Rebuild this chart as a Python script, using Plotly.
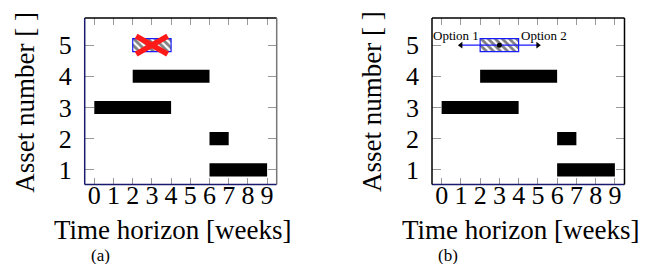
import plotly.graph_objects as go

# ---- data ----
assets = [1, 2, 3, 4]
starts = [6, 6, 0, 2]
ends = [9, 7, 4, 6]
moved_asset = 5
moved_start = 2
moved_end = 4
option_targets = [1, 5]
option_labels = ["Option 1", "Option 2"]
x_ticks = list(range(10))
y_ticks = [1, 2, 3, 4, 5]
x_title = "Time horizon [weeks]"
y_title = "Asset number [ ]"
panel_labels = ["(a)", "(b)"]

W, H = 662, 272
FONT = "Liberation Serif, Times New Roman, serif"
BAR_W = 0.42

fig = go.Figure()

panels = [("x", "y", "xaxis", "yaxis"), ("x2", "y2", "xaxis2", "yaxis2")]

for xr, yr, _, _ in panels:
    fig.add_trace(go.Bar(
        orientation="h", y=assets, base=starts,
        x=[e - s for s, e in zip(starts, ends)],
        width=BAR_W, marker=dict(color="black", line=dict(width=0)),
        xaxis=xr, yaxis=yr, showlegend=False, hoverinfo="skip"))
    fig.add_trace(go.Bar(
        orientation="h", y=[moved_asset], base=[moved_start],
        x=[moved_end - moved_start], width=BAR_W,
        marker=dict(color="white", line=dict(color="#1a1aff", width=1.2),
                    pattern=dict(shape="\\", fgcolor="black", bgcolor="white",
                                 size=5, solidity=0.55)),
        xaxis=xr, yaxis=yr, showlegend=False, hoverinfo="skip"))

# red cross (panel a)
pad_x, pad_y = 0.18, 0.29
for y0, y1 in [(moved_asset + pad_y, moved_asset - pad_y), (moved_asset - pad_y, moved_asset + pad_y)]:
    fig.add_trace(go.Scatter(
        x=[moved_start + pad_x, moved_end - pad_x], y=[y0, y1], mode="lines",
        line=dict(color="#ff1a1a", width=5.5), xaxis="x", yaxis="y",
        showlegend=False, hoverinfo="skip"))

# options arrows (panel b)
center = (moved_start + moved_end) / 2
fig.add_trace(go.Scatter(
    x=[option_targets[0], option_targets[1]], y=[moved_asset, moved_asset],
    mode="lines", line=dict(color="#1a1aff", width=1.2),
    xaxis="x2", yaxis="y2", showlegend=False, hoverinfo="skip"))
fig.add_trace(go.Scatter(
    x=option_targets, y=[moved_asset] * 2, mode="markers",
    marker=dict(symbol=["triangle-left", "triangle-right"], size=6, color="black"),
    xaxis="x2", yaxis="y2", showlegend=False, hoverinfo="skip"))
fig.add_trace(go.Scatter(
    x=[center], y=[moved_asset], mode="markers",
    marker=dict(symbol="circle", size=5, color="black"),
    xaxis="x2", yaxis="y2", showlegend=False, hoverinfo="skip"))

annotations = []
for lbl, tx, dx in zip(option_labels, option_targets, [-0.25, 0.3]):
    annotations.append(dict(x=tx + dx, y=moved_asset + 0.32, xref="x2", yref="y2",
                            text=lbl, showarrow=False,
                            font=dict(family=FONT, size=13, color="black")))

# axes geometry (pixels)
x_doms = [(76.7, 268.7), (424, 616.5)]
y_top, y_bot = 10, 176.5
ydom = [1 - y_bot / H, 1 - y_top / H]
label_lift = 8  # px the x tick labels sit closer to the frame

layout = dict(
    width=W, height=H, margin=dict(l=0, r=0, t=0, b=0),
    paper_bgcolor="white", plot_bgcolor="white", barmode="overlay",
    font=dict(family=FONT, color="black"),
)
for i, (xr, yr, xk, yk) in enumerate(panels):
    x0, x1 = x_doms[i]
    layout[xk] = dict(domain=[x0 / W, x1 / W], range=[-0.5, 9.5], anchor=yr,
                      tickvals=x_ticks, ticks="inside", ticklen=7, tickcolor="#999999",
                      tickwidth=1, mirror="ticks", showline=False, showgrid=False,
                      zeroline=False, showticklabels=False, fixedrange=True)
    # label-only companion axis
    lk = "xaxis%d" % (i + 3)
    layout[lk] = dict(domain=[x0 / W, x1 / W], range=[-0.5, 9.5], overlaying=xr,
                      anchor="free", position=1 - (y_bot - label_lift) / H,
                      tickvals=x_ticks, ticks="", showline=False, showgrid=False,
                      zeroline=False, tickfont=dict(family=FONT, size=26),
                      ticklabelstandoff=0, fixedrange=True)
    layout[yk] = dict(domain=ydom, range=[0.53, 5.87], anchor=xr,
                      tickvals=y_ticks, ticks="inside", ticklen=9, tickcolor="#999999",
                      tickwidth=1, mirror="ticks", showline=False, showgrid=False,
                      zeroline=False, tickfont=dict(family=FONT, size=26),
                      ticklabelstandoff=12, fixedrange=True)
    cx = (x0 + x1) / 2
    annotations.append(dict(x=(cx - 8) / W, y=1 - 222 / H, xref="paper", yref="paper",
                            text=x_title, showarrow=False, xanchor="center", yanchor="middle",
                            height=30, font=dict(family=FONT, size=27)))
    annotations.append(dict(x=(x0 - 60) / W, y=1 - 94 / H, xref="paper", yref="paper",
                            text=y_title, showarrow=False, textangle=-90,
                            xanchor="center", yanchor="middle",
                            font=dict(family=FONT, size=27)))
    annotations.append(dict(x=(x0 + 16) / W, y=1 - 247 / H, xref="paper", yref="paper",
                            text=panel_labels[i], showarrow=False, xanchor="center",
                            yanchor="middle", height=18, font=dict(family=FONT, size=17)))

fig.update_layout(**layout, annotations=annotations)

# dummy traces so the label-only axes are drawn
for i in range(2):
    fig.add_trace(go.Scatter(x=[None], y=[None], xaxis="x%d" % (i + 3),
                             yaxis="y" if i == 0 else "y2", showlegend=False,
                             hoverinfo="skip"))

# frame lines
navy = "#1a1a6e"
frame_cols = [
    dict(left=navy, bottom=navy, top="black", right="#777777"),
    dict(left="black", bottom=navy, top="black", right="black"),
]
for i, (xr, yr, _, _) in enumerate(panels):
    c = frame_cols[i]
    xd, yd = xr + " domain", yr + " domain"
    for (a, b, cc, d, col) in [(0, 0, 1, 0, c["bottom"]), (0, 1, 1, 1, c["top"]),
                               (0, 0, 0, 1, c["left"]), (1, 0, 1, 1, c["right"])]:
        fig.add_shape(type="line", xref=xd, yref=yd, x0=a, y0=b, x1=cc, y1=d,
                      line=dict(color=col, width=1.5), layer="above")

fig.write_html("out.html")
